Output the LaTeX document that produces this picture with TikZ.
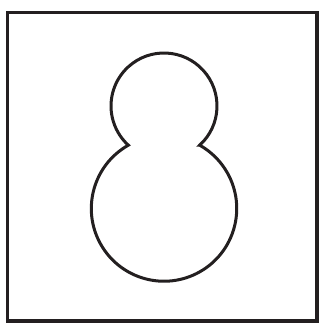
\documentclass[tikz,border=0pt]{standalone}
\usepackage{tikz}
\definecolor{ink}{HTML}{231F20}
\begin{document}
\begin{tikzpicture}[x=1pt,y=1pt, frame/.style={draw=ink,line width=3.2pt}, outline/.style={draw=ink,line width=3pt,line join=miter}]
\useasboundingbox (0,0) rectangle (320,323);
\draw[frame] (7.5,2) rectangle (317,310.5);
\coordinate (head) at (164,217);
\coordinate (body) at (164,114.5);
\draw[outline] (head) ++(-47.7:53) arc[start angle=-47.7,end angle=227.7,radius=53] arc[start angle=119.4,end angle=420.6,radius=72.7] -- cycle;
\end{tikzpicture}
\end{document}
